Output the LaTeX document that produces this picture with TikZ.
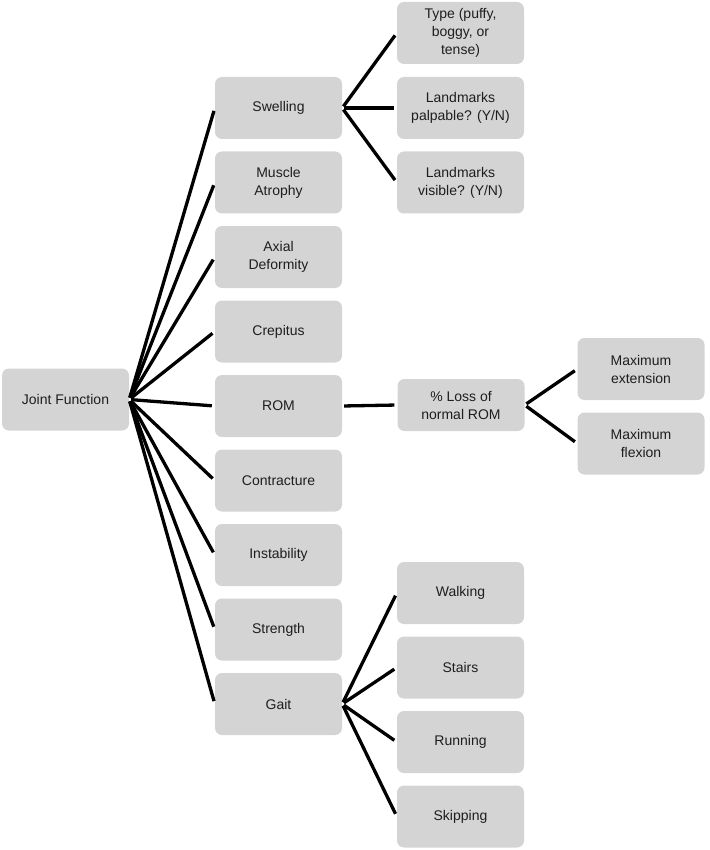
\documentclass[tikz,border=0pt]{standalone}
\usepackage{fontspec}
\setmainfont{Liberation Sans}
\definecolor{boxgray}{RGB}{212,212,212}
\definecolor{textgray}{RGB}{30,30,30}
\begin{document}
\begin{tikzpicture}[
    x=1pt, y=-1pt,
    box/.style={rectangle, rounded corners=7pt, fill=boxgray, text=textgray, minimum width=127pt, minimum height=62pt, align=center, inner sep=2pt, font=\fontsize{14}{18}\selectfont},
    link/.style={line width=3.3pt, shorten <=2pt, shorten >=3pt}
]
    \useasboundingbox (0,0) rectangle (709,850);

    % Root
    \node[box] (jf) at (65.5,399.5) {Joint Function};

    % First level
    \node[box] (sw) at (278.5,108)   {Swelling};
    \node[box] (ma) at (278.5,182.5) {Muscle\\Atrophy};
    \node[box] (ad) at (278.5,257)   {Axial\\Deformity};
    \node[box] (cr) at (278.5,331.5) {Crepitus};
    \node[box] (rm) at (278.5,406)   {ROM};
    \node[box] (co) at (278.5,480.5) {Contracture};
    \node[box] (in) at (278.5,555)   {Instability};
    \node[box] (st) at (278.5,629.5) {Strength};
    \node[box] (ga) at (278.5,704)   {Gait};

    % Swelling details
    \node[box] (ty) at (460.5,33)    {Type (puffy,\\boggy, or\\tense)};
    \node[box] (lp) at (460.5,108)   {Landmarks\\palpable? (Y/N)};
    \node[box] (lv) at (460.5,182.5) {Landmarks\\visible? (Y/N)};

    % ROM details
    \node[box, minimum height=52pt] (lo) at (461,405) {\% Loss of\\normal ROM};
    \node[box] (mx) at (641,369)   {Maximum\\extension};
    \node[box] (mf) at (641,443.5) {Maximum\\flexion};

    % Gait details
    \node[box] (wa) at (460.5,593)   {Walking};
    \node[box] (sr) at (460.5,667.5) {Stairs};
    \node[box] (ru) at (460.5,742)   {Running};
    \node[box] (sk) at (460.5,816.5) {Skipping};

    % Connectors
    \foreach \n in {sw,ma,ad,cr,rm,co,in,st,ga}
        \draw[link] (jf.east) -- (\n.west);
    \foreach \n in {ty,lp,lv}
        \draw[link] (sw.east) -- (\n.west);
    \draw[link] (rm.east) -- (lo.west);
    \foreach \n in {mx,mf}
        \draw[link] (lo.east) -- (\n.west);
    \foreach \n in {wa,sr,ru,sk}
        \draw[link] (ga.east) -- (\n.west);

\end{tikzpicture}
\end{document}
